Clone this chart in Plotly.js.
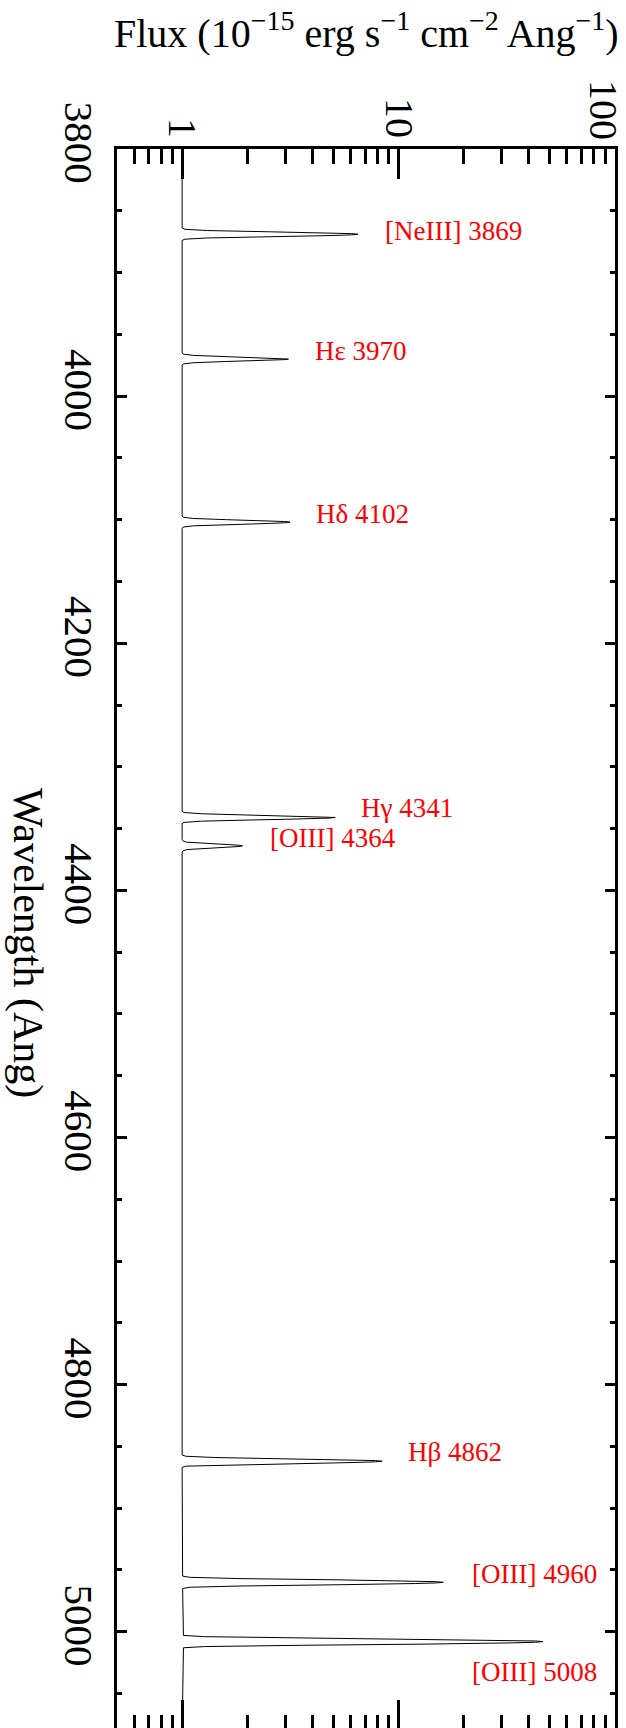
<!DOCTYPE html>
<html>
<head>
<meta charset="utf-8">
<script src="https://cdn.plot.ly/plotly-3.0.1.min.js"></script>
<style>
html,body{margin:0;padding:0;background:#fff;overflow:hidden;}
#wrap{width:626px;height:1728px;overflow:hidden;position:relative;}
#plot{width:626px;height:1732px;}
</style>
</head>
<body>
<div id="wrap"><div id="plot"></div></div>
<script>
// ---- data ----
var lineNames  = ["[NeIII] 3869", "H\u03b5 3970", "H\u03b4 4102", "H\u03b3 4341", "[OIII] 4364", "H\u03b2 4862", "[OIII] 4960", "[OIII] 5008"];
var lineCenter = [3869, 3970, 4102, 4341, 4364, 4862, 4960, 5008];
// wavelength offsets (Ang) of the sampled profile points around each line centre
var profileOffset = [-5, -4, -3, -2, -1.5, -1, -0.5, 0, 0.5, 1, 1.5, 2, 3, 4, 5];
// flux (1e-15 erg/s/cm2/A) at those offsets, per line
var fluxNeIII3869 = [1.00, 1.03, 1.31, 2.53, 3.68, 4.99, 6.08, 6.5, 6.08, 4.99, 3.68, 2.53, 1.31, 1.03, 1.00];
var fluxHe3970    = [1.00, 1.01, 1.12, 1.58, 2.02, 2.52, 2.94, 3.1, 2.94, 2.52, 2.02, 1.58, 1.12, 1.01, 1.00];
var fluxHd4102    = [1.00, 1.01, 1.12, 1.60, 2.05, 2.56, 2.98, 3.15, 2.98, 2.56, 2.05, 1.60, 1.12, 1.01, 1.00];
var fluxHg4341    = [1.00, 1.02, 1.23, 2.14, 3.00, 3.98, 4.78, 5.1, 4.78, 3.98, 3.00, 2.14, 1.23, 1.02, 1.00];
var fluxOIII4364  = [1.00, 1.01, 1.05, 1.25, 1.44, 1.65, 1.83, 1.9, 1.83, 1.65, 1.44, 1.25, 1.05, 1.01, 1.00];
var fluxHb4862    = [1.00, 1.04, 1.41, 3.06, 4.60, 6.37, 7.83, 8.4, 7.83, 6.37, 4.60, 3.06, 1.41, 1.04, 1.00];
var fluxOIII4960  = [1.005, 1.09, 1.85, 5.20, 8.35, 11.96, 14.94, 16.1, 14.94, 11.96, 8.35, 5.20, 1.85, 1.09, 1.005];
var fluxOIII5008  = [1.014, 1.27, 3.55, 13.6, 23.2, 34.0, 43.0, 46.5, 43.0, 34.0, 23.2, 13.6, 3.55, 1.27, 1.014];
var lineProfiles = [fluxNeIII3869, fluxHe3970, fluxHd4102, fluxHg4341, fluxOIII4364, fluxHb4862, fluxOIII4960, fluxOIII5008];
var continuumWave = [3800, 5080];
var continuumFlux = [1.0, 1.0];
var waveTicks = [3800, 4000, 4200, 4400, 4600, 4800, 5000];
var fluxTicks = [1, 10, 100];
var fluxTickText = ["1", "10", "100"];
var fluxMinorTicks = [0.5,0.6,0.7,0.8,0.9,2,3,4,5,6,7,8,9,20,30,40,50,60,70,80,90];

// ---- build spectrum ----
var specWave = [continuumWave[0]], specFlux = [continuumFlux[0]];
for (var i = 0; i < lineCenter.length; i++) {
  for (var j = 0; j < profileOffset.length; j++) {
    specWave.push(lineCenter[i] + profileOffset[j]);
    specFlux.push(lineProfiles[i][j]);
  }
}
specWave.push(continuumWave[1]); specFlux.push(continuumFlux[1]);

// ---- geometry helpers (pixel -> data for label placement) ----
var L = 117, R = 615, T = 149, B = 1730;
var xr = [Math.log10(0.5), 2.0004];
var yTop = 3800, pxPerA = 1.2356;
var yBot = yTop + (B - T) / pxPerA;
function pxToLogX(px){ return xr[0] + (px - L) / (R - L) * (xr[1] - xr[0]); }
function pxToWave(py){ return yTop + (py - T) / pxPerA; }
var labelPx = [[383,231],[313,351],[314,514],[359,808],[268,838],[406,1452],[470,1574],[470,1672]];

var FONT = "Liberation Serif, Times New Roman, serif";
var annotations = [];
for (var k = 0; k < lineNames.length; k++) {
  annotations.push({
    text: lineNames[k], xref: "x", yref: "y",
    x: pxToLogX(labelPx[k][0]), y: pxToWave(labelPx[k][1]),
    xanchor: "left", yanchor: "middle", showarrow: false,
    font: {family: FONT, size: 27, color: "#ff0000"}
  });
}
annotations.push({
  text: "Flux (10<sup>\u221215</sup> erg s<sup>\u22121</sup> cm<sup>\u22122</sup> Ang<sup>\u22121</sup>)",
  xref: "paper", yref: "paper", x: (366 - L) / (R - L), y: (B - 31) / (B - T),
  xanchor: "center", yanchor: "middle", showarrow: false,
  font: {family: FONT, size: 40, color: "#000"}
});
annotations.push({
  text: "Wavelength (Ang)", textangle: 90,
  xref: "paper", yref: "paper", x: (28 - L) / (R - L), y: (B - 943) / (B - T),
  xanchor: "center", yanchor: "middle", showarrow: false,
  font: {family: FONT, size: 42, color: "#000"}
});
// the last flux tick label sits at the right frame edge; drawn nudged inward as in the reference
annotations.push({
  text: fluxTickText[2], textangle: 90,
  xref: "paper", yref: "paper", x: (604 - L) / (R - L), y: (B - 110) / (B - T),
  xanchor: "center", yanchor: "middle", showarrow: false,
  font: {family: FONT, size: 40, color: "#000"}
});
var shownTickText = [fluxTickText[0], fluxTickText[1], ""];

var trace = {
  x: specFlux, y: specWave, type: "scatter", mode: "lines",
  line: {color: "#000", width: 1}, hoverinfo: "skip"
};

var layout = {
  width: 626, height: 1732,
  margin: {l: L, r: 626 - R, t: T, b: 1732 - B, pad: 0},
  paper_bgcolor: "#fff", plot_bgcolor: "#fff",
  showlegend: false,
  font: {family: FONT, size: 40, color: "#000"},
  xaxis: {
    type: "log", side: "top", range: xr, autorange: false,
    showline: true, linewidth: 3, linecolor: "#000", mirror: "ticks",
    ticks: "inside", ticklen: 30, tickwidth: 3, tickcolor: "#000",
    tickmode: "array", tickvals: fluxTicks, ticktext: shownTickText,
    tickangle: 90, tickfont: {family: FONT, size: 40, color: "#000"},
    ticklabelstandoff: -6,
    showgrid: false, zeroline: false,
    minor: {tickmode: "array", tickvals: fluxMinorTicks, ticks: "inside", ticklen: 15, tickwidth: 3, tickcolor: "#000", showgrid: false}
  },
  yaxis: {
    range: [yBot, yTop], autorange: false,
    showline: true, linewidth: 3, linecolor: "#000", mirror: "ticks",
    ticks: "inside", ticklen: 10, tickwidth: 3, tickcolor: "#000",
    tickmode: "array", tickvals: waveTicks,
    tickangle: 90, tickfont: {family: FONT, size: 41, color: "#000"},
    showgrid: false, zeroline: false,
    minor: {dtick: 50, ticks: "inside", ticklen: 5, tickwidth: 3, tickcolor: "#000", showgrid: false}
  },
  annotations: annotations
};

Plotly.newPlot("plot", [trace], layout, {staticPlot: true, displayModeBar: false});
</script>
</body>
</html>
